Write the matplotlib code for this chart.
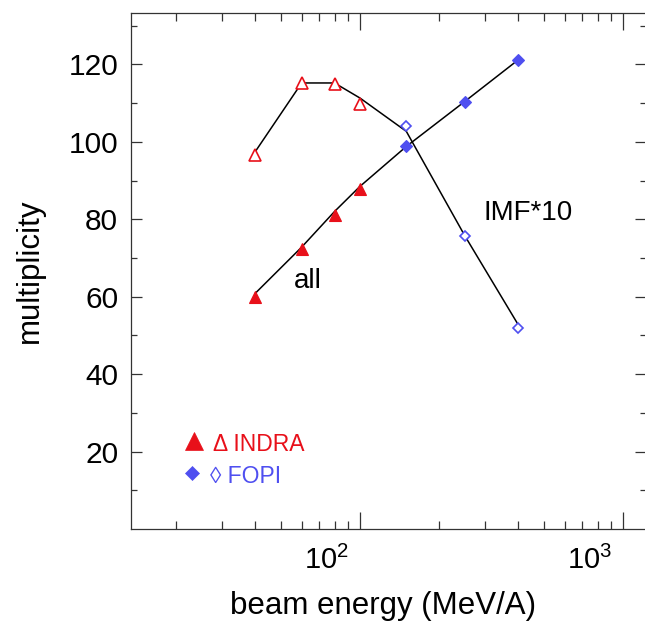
import matplotlib
matplotlib.use("Agg")
import matplotlib.pyplot as plt
import matplotlib.ticker as mticker
import matplotlib.transforms as mtrans
import numpy as np

# ---- data ----
energy_indra = [40, 60, 80, 100]
energy_fopi = [150, 250, 400]
all_indra = [59.9, 72.3, 81.2, 87.7]
all_fopi = [98.8, 110.4, 121.2]
imf_indra = [96.7, 115.3, 115.0, 109.8]
imf_fopi = [104.1, 75.8, 52.0]
curve_energy = [40, 60, 80, 100, 150, 250, 400]
all_curve = [60.9, 72.8, 82.0, 88.5, 98.8, 110.4, 121.2]
imf_curve = [97.5, 115.2, 115.2, 111.3, 102.7, 75.8, 52.7]
y_ticks = [20, 40, 60, 80, 100, 120]
y_minor = [10, 30, 50, 70, 90, 110, 130]
x_ticks = [100, 1000]

RED = "#e8101a"
BLUE = "#4f4ff0"

plt.rcParams['font.family'] = ['Liberation Sans', 'DejaVu Sans']
plt.rcParams['mathtext.fontset'] = 'custom'
plt.rcParams['mathtext.rm'] = 'Liberation Sans'
plt.rcParams['mathtext.it'] = 'Liberation Sans'
plt.rcParams['mathtext.default'] = 'regular'

W, H = 645, 623
fig = plt.figure(figsize=(W / 100, H / 100), dpi=100)
left_px, right_px, top_px, bot_px = 130.7, 646.0, 12.5, 529.0
ax = fig.add_axes([left_px / W, 1 - bot_px / H, (right_px - left_px) / W, (bot_px - top_px) / H])

ax.set_xscale('log')
ax.set_xlim(13.43, 1223)
ax.set_ylim(0, 133.4)

ax.plot(curve_energy, all_curve, color='black', lw=1.1, zorder=2)
ax.plot(curve_energy, imf_curve, color='black', lw=1.1, zorder=2)

ax.plot(energy_indra, all_indra, linestyle='none', marker='^', ms=9,
        mfc=RED, mec=RED, mew=0.8, zorder=3)
ax.plot(energy_indra, imf_indra, linestyle='none', marker='^', ms=9,
        mfc='white', mec=RED, mew=1.2, zorder=3)
ax.plot(energy_fopi, all_fopi, linestyle='none', marker='D', ms=6,
        mfc=BLUE, mec=BLUE, mew=0.8, zorder=3)
ax.plot(energy_fopi, imf_fopi, linestyle='none', marker='D', ms=5.3,
        mfc='white', mec=BLUE, mew=1.2, zorder=3)

ax.text(55.8, 62.2, 'all', fontsize=20, ha='left', va='baseline')
ax.text(293.6, 79.8, 'IMF*10', fontsize=20, ha='left', va='baseline')

# legend drawn by hand as in the reference
ax.plot([23.4], [22.7], linestyle='none', marker='^', ms=13, mfc=RED, mec=RED, mew=0.5)
ax.plot([22.9], [14.4], linestyle='none', marker='D', ms=6.8, mfc=BLUE, mec=BLUE, mew=0.5)
ax.text(27.6, 20.1, '\u0394 INDRA', fontsize=16.5, color=RED, ha='left', va='baseline')
ax.text(26.9, 11.8, '\u25ca FOPI', fontsize=16.5, color=BLUE, ha='left', va='baseline')

# ticks
ax.yaxis.set_major_locator(mticker.FixedLocator(y_ticks))
ax.yaxis.set_minor_locator(mticker.FixedLocator(y_minor))
ax.xaxis.set_major_locator(mticker.FixedLocator(x_ticks))
ax.xaxis.set_minor_locator(mticker.LogLocator(base=10, subs=np.arange(2, 10), numticks=20))
ax.xaxis.set_major_formatter(mticker.FuncFormatter(lambda v, p: r'$10^{%d}$' % round(np.log10(v))))
ax.xaxis.set_minor_formatter(mticker.NullFormatter())

ax.tick_params(axis='both', which='both', direction='in', top=True, right=True,
               color='#333333', width=0.9)
ax.tick_params(axis='x', which='major', length=12, labelsize=21, pad=12)
ax.tick_params(axis='x', which='minor', length=5.8)
ax.tick_params(axis='y', which='major', length=8, labelsize=21.5, pad=9)
ax.tick_params(axis='y', which='minor', length=4)

for sp in ax.spines.values():
    sp.set_color('#333333')
    sp.set_linewidth(0.9)

fig.canvas.draw()
offset = mtrans.ScaledTranslation(-33.5 / 100, 0, fig.dpi_scale_trans)
for lab in ax.get_xticklabels():
    lab.set_transform(lab.get_transform() + offset)

ax.set_xlabel('beam energy (MeV/A)', fontsize=22.5, va='baseline')
ax.xaxis.set_label_coords(0.4896, -0.1646)
ax.set_ylabel('multiplicity', fontsize=22.5, labelpad=17)

fig.savefig('out.png', dpi=100)
